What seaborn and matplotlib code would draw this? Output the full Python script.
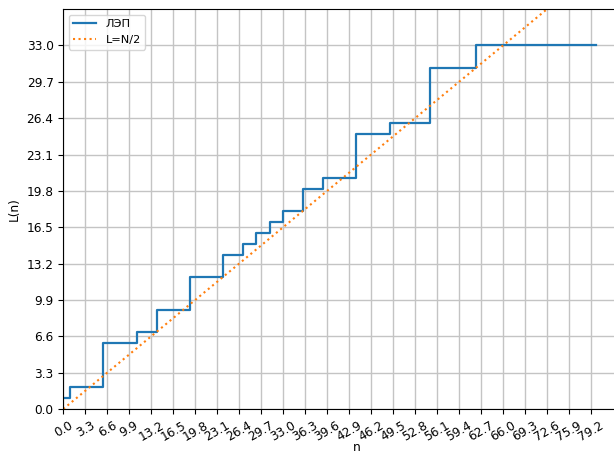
import matplotlib
matplotlib.use("Agg")
import matplotlib.pyplot as plt
import seaborn as sns
import pandas as pd

# step points of the linear complexity profile (n where L changes)
step_n = [0, 1, 6, 11, 14, 19, 24, 27, 29, 31, 33, 36, 39, 44, 49, 55, 62, 80]
step_L = [1, 2, 6, 7, 9, 12, 14, 15, 16, 17, 18, 20, 21, 25, 26, 31, 33, 33]

# reference line L = N/2 (end points)
half_n = [0, 80]
half_L = [0, 40]

x_ticks = [round(3.3 * i, 1) for i in range(25)]
y_ticks = [round(3.3 * i, 1) for i in range(11)]

df = pd.DataFrame({"n": step_n, "L": step_L})
df_half = pd.DataFrame({"n": half_n, "L": half_L})

plt.rcParams["font.size"] = 8.7
plt.rcParams["legend.fontsize"] = 8.2

fig = plt.figure(figsize=(6.14, 4.57), dpi=100)
# the original is a cropped screenshot, right side of the axes is cut off
ax = fig.add_axes([0.103, 0.105, 0.955, 0.875])

sns.lineplot(data=df, x="n", y="L", drawstyle="steps-post", color="C0",
             linewidth=1.6, label="ЛЭП", ax=ax, sort=False)
sns.lineplot(data=df_half, x="n", y="L", linestyle=":", color="C1",
             linewidth=1.5, label="L=N/2", ax=ax)

ax.set_xlim(0, 88)
ax.set_ylim(0, 36.3)
ax.set_xticks(x_ticks)
ax.set_xticklabels([f"{v:.1f}" for v in x_ticks], rotation=30)
ax.set_yticks(y_ticks)
ax.set_yticklabels([f"{v:.1f}" for v in y_ticks])
ax.grid(True, color="#c4c4c4", linewidth=1.0)
ax.set_xlabel("n", labelpad=-1.5)
ax.set_ylabel("L(n)")
ax.legend(loc="upper left")

fig.savefig("out.png", dpi=100)
